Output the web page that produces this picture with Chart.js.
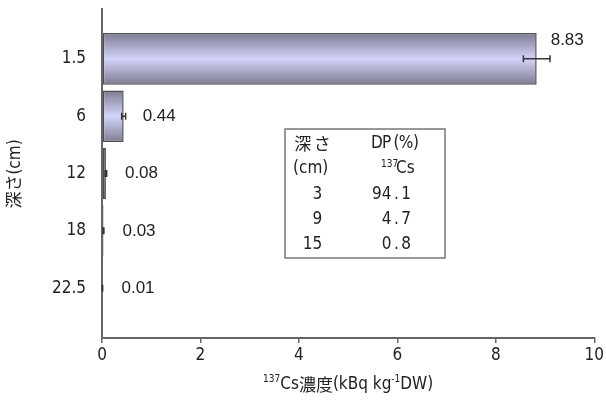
<!DOCTYPE html>
<html>
<head>
<meta charset="utf-8">
<script src="https://cdn.jsdelivr.net/npm/chart.js@4"></script>
<style>
  html, body { margin: 0; padding: 0; background: #fff; }
  #wrap { width: 606px; height: 407px; }
</style>
</head>
<body>
<div id="wrap"><canvas id="c" width="606" height="407"></canvas></div>
<script>
// Sampling depths (cm) and 137Cs concentration (kBq kg-1 DW) with error
const depthLabels = ['1.5', '6', '12', '18', '22.5'];
const concValues = [8.83, 0.44, 0.08, 0.03, 0.01];
const concErrors = [0.27, 0.04, 0.015, 0.008, 0.003];
const xTickStep = 2;
const xMax = 10;

// Inset table: depth (cm) vs distribution proportion DP (%)
const tableDepths = ['3', '9', '15'];
const tableDP = ['94.1', '4.7', '0.8'];

const NARROW = "'DejaVu Sans Condensed', 'Liberation Sans Narrow', 'Liberation Sans', sans-serif";
const CJK = "'Noto Sans CJK JP', sans-serif";
const TEXT = '#222';
const AXIS = '#666';

// Per-bar vertical gradient, built from each bar's drawn geometry
const barShading = {
  id: 'barShading',
  beforeDatasetsDraw(chart) {
    const ctx = chart.ctx;
    chart.getDatasetMeta(0).data.forEach(el => {
      const top = el.y - el.height / 2, bot = el.y + el.height / 2;
      if (!isFinite(top) || !isFinite(bot)) return;
      const g = ctx.createLinearGradient(0, top, 0, bot);
      g.addColorStop(0, '#7c7c8f');
      g.addColorStop(0.5, '#d4d4fb');
      g.addColorStop(1, '#7c7c8f');
      el.options.backgroundColor = g;
    });
  }
};

// Error bars and value labels
const barDecor = {
  id: 'barDecor',
  afterDatasetsDraw(chart) {
    const { ctx, scales: { x, y } } = chart;
    ctx.save();
    concValues.forEach((v, i) => {
      const cy = y.getPixelForValue(i);
      const x0 = x.getPixelForValue(v - concErrors[i]);
      const x1 = x.getPixelForValue(v + concErrors[i]);
      ctx.strokeStyle = '#333';
      ctx.lineWidth = 1.5;
      ctx.beginPath();
      ctx.moveTo(x0, cy); ctx.lineTo(x1, cy);
      ctx.moveTo(x0, cy - 3.5); ctx.lineTo(x0, cy + 3.5);
      ctx.moveTo(x1, cy - 3.5); ctx.lineTo(x1, cy + 3.5);
      ctx.stroke();

      // label sits beside the bar, lifted above it when the error bar reaches out
      const xe = x.getPixelForValue(v);
      let lx = xe + 19, ly = cy;
      if (x1 - xe > 6) { lx = xe + 14; ly = cy - 19; }
      ctx.fillStyle = TEXT;
      ctx.font = "17px 'Liberation Sans', Arial, sans-serif";
      ctx.textAlign = 'left';
      ctx.textBaseline = 'middle';
      ctx.fillText(v.toFixed(2), lx, ly);
    });
    ctx.restore();
  }
};

// Draw a string in fixed-width cells (full-width glyphs take two cells)
function monoText(ctx, s, x, y, cell, align) {
  const chars = [...s];
  const widths = chars.map(ch => (ch.charCodeAt(0) > 0x2000 ? 2 : 1) * cell);
  const total = widths.reduce((a, b) => a + b, 0);
  let cx = align === 'right' ? x - total : x;
  ctx.textAlign = 'center';
  chars.forEach((ch, k) => {
    ctx.font = (ch.charCodeAt(0) > 0x2000 ? "17px " + CJK : "17px " + NARROW);
    ctx.fillText(ch, cx + widths[k] / 2, y);
    cx += widths[k];
  });
}

// Axis titles and inset table
const annotations = {
  id: 'annotations',
  afterDraw(chart) {
    const ctx = chart.ctx;
    ctx.save();
    ctx.fillStyle = TEXT;
    ctx.textBaseline = 'middle';

    // y-axis title, rotated
    ctx.save();
    ctx.translate(16, 174);
    ctx.rotate(-Math.PI / 2);
    ctx.textAlign = 'center';
    ctx.font = "17px 'DejaVu Sans Condensed', 'Noto Sans CJK JP', sans-serif";
    ctx.fillText('深さ(cm)', 0, 0);
    ctx.restore();

    // x-axis title with superscripts
    const parts = [
      { t: '137', f: "10px " + NARROW, dy: -6 },
      { t: 'Cs', f: "17px " + NARROW, dy: 0 },
      { t: '濃度', f: "17px " + CJK, dy: 0 },
      { t: '(kBq kg', f: "17px " + NARROW, dy: 0 },
      { t: '-1', f: "10px " + NARROW, dy: -6 },
      { t: 'DW)', f: "17px " + NARROW, dy: 0 }
    ];
    let total = 0;
    parts.forEach(p => { ctx.font = p.f; p.w = ctx.measureText(p.t).width; total += p.w; });
    let px = (chart.chartArea.left + chart.chartArea.right) / 2 - total / 2;
    ctx.textAlign = 'left';
    parts.forEach(p => { ctx.font = p.f; ctx.fillText(p.t, px, 385 + p.dy); px += p.w; });

    // inset table
    ctx.strokeStyle = '#777';
    ctx.lineWidth = 1.5;
    ctx.strokeRect(285, 129, 160, 129);
    const cell = 9.75;
    const leftX = 293, rightX = 372;
    const rowY = [144, 169, 195, 220, 245];
    monoText(ctx, '深さ', leftX, rowY[0], cell, 'left');
    monoText(ctx, 'DP(%)', rightX, rowY[0], cell, 'left');
    ctx.textAlign = 'left';
    ctx.font = "17px " + NARROW;
    ctx.fillText('(cm)', leftX, rowY[1]);
    ctx.font = "10px " + NARROW;
    ctx.fillText('137', 381, rowY[1] - 5);
    ctx.font = "17px " + NARROW;
    ctx.fillText('Cs', 396, rowY[1]);
    tableDepths.forEach((d, i) => monoText(ctx, d, leftX + 3 * cell, rowY[i + 2], cell, 'right'));
    tableDP.forEach((d, i) => monoText(ctx, d, rightX + 4 * cell, rowY[i + 2], cell, 'right'));
    ctx.restore();
  }
};

new Chart(document.getElementById('c'), {
  type: 'bar',
  data: {
    datasets: [{
      data: concValues.map((v, i) => ({ x: v, y: i })),
      // scriptable so every bar keeps its own options object
      backgroundColor: () => '#b0b0d8',
      borderColor: '#4d4d58',
      borderWidth: 1.5,
      borderSkipped: false,
      categoryPercentage: 0.9,
      barPercentage: 1
    }]
  },
  options: {
    indexAxis: 'y',
    responsive: false,
    animation: false,
    devicePixelRatio: 1,
    layout: { padding: { top: 9, right: 10, left: 0, bottom: 0 } },
    plugins: { legend: { display: false }, tooltip: { enabled: false } },
    scales: {
      x: {
        type: 'linear',
        position: 'bottom',
        min: 0,
        max: xMax,
        ticks: { stepSize: xTickStep, color: TEXT, font: { family: NARROW, size: 17 }, padding: 2 },
        grid: { drawOnChartArea: false, drawTicks: true, tickLength: 5, color: AXIS, lineWidth: 1.5 },
        border: { display: true, color: AXIS, width: 2 },
        afterFit: s => { s.height = 69; }
      },
      y: {
        type: 'linear',
        reverse: true,
        offset: false,
        min: -0.87,
        max: 4.87,
        ticks: {
          stepSize: 1,
          includeBounds: false,
          color: TEXT,
          font: { family: NARROW, size: 17 },
          padding: 8,
          callback: v => depthLabels[v] ?? ''
        },
        grid: { display: false },
        border: { display: true, color: AXIS, width: 2 },
        afterFit: s => { s.width = 102; s.paddingTop = 0; s.paddingBottom = 0; }
      }
    }
  },
  plugins: [barShading, barDecor, annotations]
});
</script>
</body>
</html>
